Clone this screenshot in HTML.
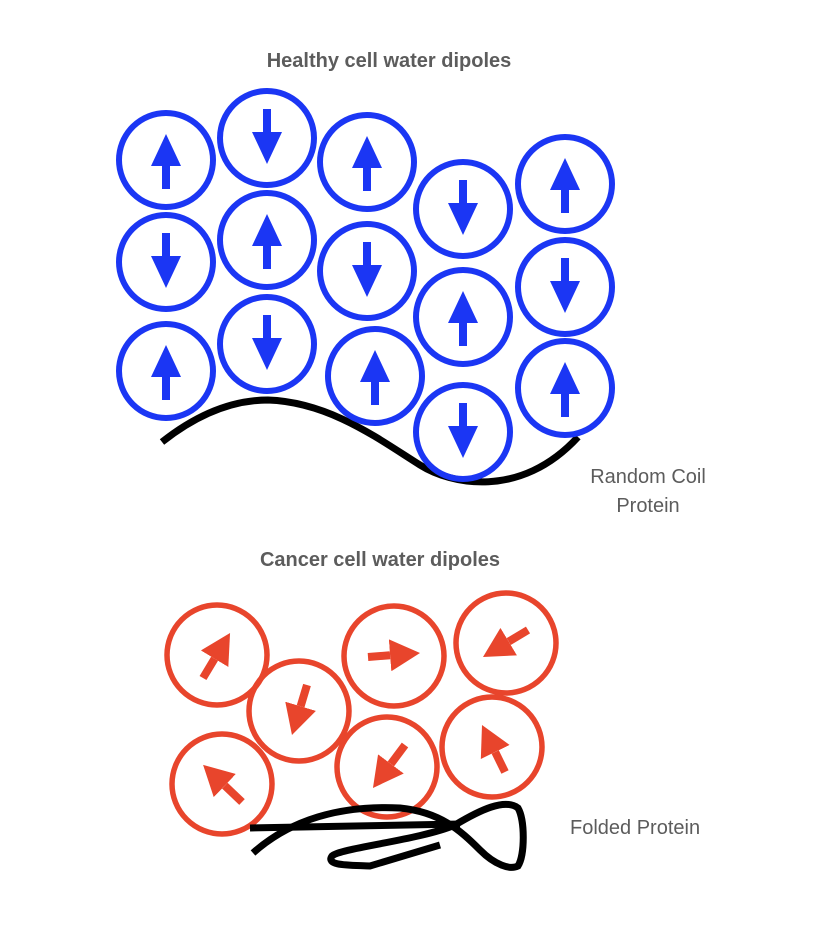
<!DOCTYPE html>
<html><head><meta charset="utf-8"><style>
html,body{margin:0;padding:0;background:#fff;}
svg{display:block;}
text{font-family:"Liberation Sans",Arial,sans-serif;fill:#5c5c5c;}
</style></head><body>
<svg width="814" height="940" viewBox="0 0 814 940" xmlns="http://www.w3.org/2000/svg">
<defs>
<marker id="hb" markerUnits="userSpaceOnUse" markerWidth="32" markerHeight="30" viewBox="0 0 32 30" refX="0" refY="15" orient="auto"><path d="M0,0 L32,15 L0,30z" fill="#1b36f4"/></marker>
<marker id="hr" markerUnits="userSpaceOnUse" markerWidth="30" markerHeight="32" viewBox="0 0 30 32" refX="0" refY="16" orient="auto"><path d="M0,0 L30,16 L0,32z" fill="#e8452c"/></marker>
</defs>
<text x="389" y="67" font-size="20" font-weight="bold" text-anchor="middle">Healthy cell water dipoles</text>
<text x="380" y="566" font-size="20" font-weight="bold" text-anchor="middle">Cancer cell water dipoles</text>
<text x="648" y="483" font-size="20" text-anchor="middle">Random Coil</text>
<text x="648" y="512" font-size="20" text-anchor="middle">Protein</text>
<text x="570" y="834" font-size="20">Folded Protein</text>

<path d="M162,442 C200,412 235,400 268,400 C330,402 380,440 420,465 C450,484 520,500 578,437" fill="none" stroke="#000" stroke-width="7"/>

<g fill="none" stroke="#1b36f4" stroke-width="6">
<circle cx="166" cy="160" r="47"/><circle cx="166" cy="262" r="47"/><circle cx="166" cy="371" r="47"/>
<circle cx="267" cy="138" r="47"/><circle cx="267" cy="240" r="47"/><circle cx="267" cy="344" r="47"/>
<circle cx="367" cy="162" r="47"/><circle cx="367" cy="271" r="47"/><circle cx="375" cy="376" r="47"/>
<circle cx="463" cy="209" r="47"/><circle cx="463" cy="317" r="47"/><circle cx="463" cy="432" r="47"/>
<circle cx="565" cy="184" r="47"/><circle cx="565" cy="287" r="47"/><circle cx="565" cy="388" r="47"/>
</g>
<g stroke="#1b36f4" stroke-width="8" marker-end="url(#hb)">
<line x1="166" y1="189" x2="166" y2="166"/>
<line x1="166" y1="233" x2="166" y2="256"/>
<line x1="166" y1="400" x2="166" y2="377"/>
<line x1="267" y1="109" x2="267" y2="132"/>
<line x1="267" y1="269" x2="267" y2="246"/>
<line x1="267" y1="315" x2="267" y2="338"/>
<line x1="367" y1="191" x2="367" y2="168"/>
<line x1="367" y1="242" x2="367" y2="265"/>
<line x1="375" y1="405" x2="375" y2="382"/>
<line x1="463" y1="180" x2="463" y2="203"/>
<line x1="463" y1="346" x2="463" y2="323"/>
<line x1="463" y1="403" x2="463" y2="426"/>
<line x1="565" y1="213" x2="565" y2="190"/>
<line x1="565" y1="258" x2="565" y2="281"/>
<line x1="565" y1="417" x2="565" y2="394"/>
</g>

<g fill="none" stroke="#e8452c" stroke-width="5.5">
<circle cx="217" cy="655" r="50"/><circle cx="299" cy="711" r="50"/><circle cx="394" cy="656" r="50"/>
<circle cx="506" cy="643" r="50"/><circle cx="222" cy="784" r="50"/><circle cx="387" cy="767" r="50"/>
<circle cx="492" cy="747" r="50"/>
</g>
<g stroke="#e8452c" stroke-width="8" marker-end="url(#hr)">
<line x1="203" y1="678" x2="214.6" y2="658.7"/>
<line x1="307" y1="685" x2="300.6" y2="706.3"/>
<line x1="368" y1="657" x2="390.1" y2="655.3"/>
<line x1="528" y1="630" x2="508.7" y2="641.6"/>
<line x1="242" y1="802" x2="224.8" y2="785.6"/>
<line x1="405" y1="745" x2="390.9" y2="763.9"/>
<line x1="505" y1="772" x2="495.2" y2="752"/>
</g>

<g fill="none" stroke="#000" stroke-width="7">
<path d="M250,828 L460,824"/>
<path d="M253,853 C290,820 340,805 400,808 C440,812 460,830 480,850 C495,865 510,870 518,866 C525,855 525,820 518,808 C505,798 480,810 455,825 C420,840 340,848 332,856 C325,866 350,865 370,866 L440,845"/>
</g>
</svg>
</body></html>
